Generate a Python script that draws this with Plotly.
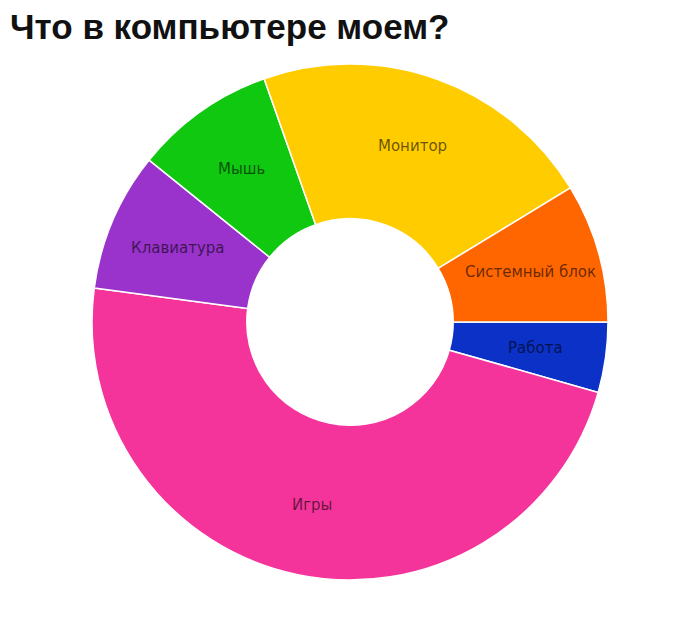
import math
import plotly.graph_objects as go

# what's in my computer - share of things
parts = ["Работа", "Игры", "Клавиатура", "Мышь", "Монитор", "Системный блок"]
shares = [4.4, 47.7, 8.7, 8.8, 21.7, 8.7]
part_colours = ["#0b31c6", "#f5349b", "#9933cc", "#11c811", "#ffcc00", "#ff6600"]

fig = go.Figure(
    go.Pie(
        labels=parts,
        values=shares,
        hole=0.4,
        sort=False,
        direction="clockwise",
        rotation=90,
        marker=dict(colors=part_colours, line=dict(color="#ffffff", width=1.5)),
        textinfo="none",
        hoverinfo="label+percent",
    )
)

# labels sit on the mid angle of each slice, a bit outside the middle of the ring
total = sum(shares)
label_r = 0.725 * 0.5
start = 0.0
label_notes = []
for name, val in zip(parts, shares):
    mid = (start + val / 2) / total * 2 * math.pi  # clockwise from 3 o'clock
    start += val
    label_notes.append(
        dict(
            text=name,
            x=0.5 + label_r * math.cos(mid),
            y=0.5 - label_r * math.sin(mid),
            xref="paper",
            yref="paper",
            xanchor="center",
            yanchor="middle",
            showarrow=False,
            font=dict(family="DejaVu Sans", size=15, color="rgba(0,0,0,0.6)"),
        )
    )

fig.update_layout(
    title=dict(
        text="<b>Что в компьютере моем?</b>",
        font=dict(family="Liberation Sans", size=35, color="#111111"),
        x=2 / 700,
        xanchor="left",
        xref="container",
        y=1 - 19 / 618,
        yanchor="middle",
        yref="container",
    ),
    annotations=label_notes,
    showlegend=False,
    width=700,
    height=618,
    autosize=False,
    margin=dict(l=84, r=100, t=56, b=46),
    paper_bgcolor="#ffffff",
)

fig.write_html("out.html")
